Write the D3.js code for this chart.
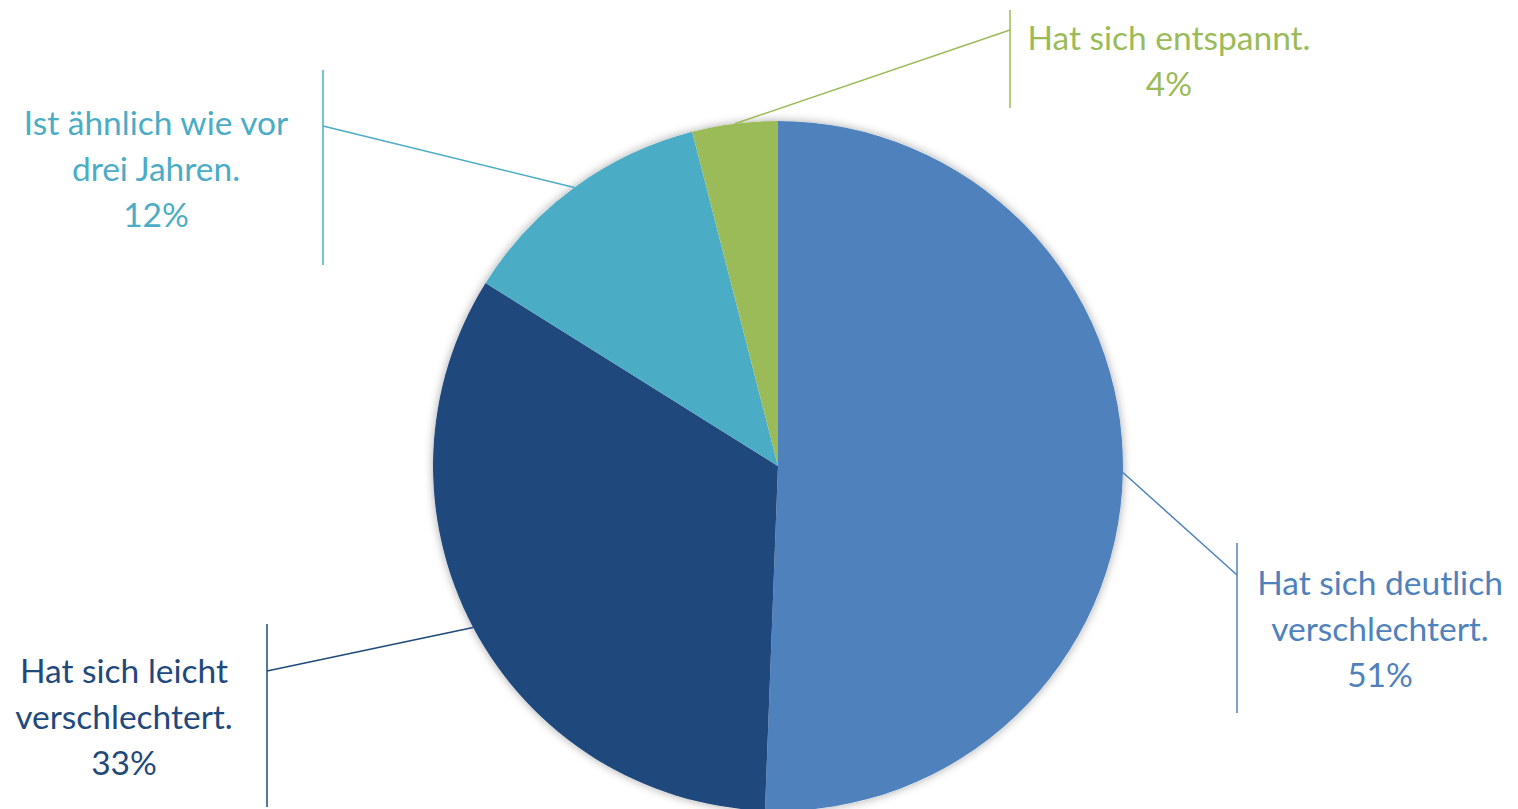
<!DOCTYPE html>
<html><head><meta charset="utf-8">
<script src="https://cdn.jsdelivr.net/npm/d3@7"></script>
<style>html,body{margin:0;padding:0;background:#fff;overflow:hidden}</style>
</head><body>
<svg id="chart" width="1518" height="809"></svg>
<script>
const categories = ["Hat sich deutlich verschlechtert.", "Hat sich leicht verschlechtert.", "Ist ähnlich wie vor drei Jahren.", "Hat sich entspannt."];
const labelLines = [["Hat sich deutlich", "verschlechtert."], ["Hat sich leicht", "verschlechtert."], ["Ist ähnlich wie vor", "drei Jahren."], ["Hat sich entspannt."]];
const values = [50.6, 33.3, 12.1, 4.0];
const colors = ["#4F81BD", "#1F497D", "#4BACC6", "#9BBB59"];

// label box layout (annotation placement)
const labelLayout = [
  {barX: 1237, y1: 543, y2: 713, attachY: 575, textX: 1380, baseY: 595},
  {barX: 267, y1: 624, y2: 807, attachY: 671, textX: 124, baseY: 683},
  {barX: 323, y1: 70, y2: 265, attachY: 126, textX: 156, baseY: 135},
  {barX: 1010, y1: 10, y2: 108, attachY: 30, textX: 1169, baseY: 50}
];

const svg = d3.select("#chart");
const cx = 778, cy = 466, R = 345;
const lineH = 46;

const defs = svg.append("defs");
const f = defs.append("filter").attr("id", "shadow").attr("x", "-10%").attr("y", "-10%").attr("width", "120%").attr("height", "120%");
f.append("feDropShadow").attr("dx", 0).attr("dy", 0).attr("stdDeviation", 5).attr("flood-color", "#000").attr("flood-opacity", 0.35);

const data = categories.map((c, i) => ({cat: c, value: values[i], color: colors[i], lines: labelLines[i], layout: labelLayout[i]}));
const pie = d3.pie().value(d => d.value).sort(null);
const arcs = pie(data);
const arc = d3.arc().innerRadius(0).outerRadius(R);

const g = svg.append("g").attr("transform", `translate(${cx},${cy})`);
g.append("circle").attr("r", R).attr("fill", "#fff").attr("filter", "url(#shadow)");
g.selectAll("path.slice").data(arcs).join("path").attr("class", "slice")
  .attr("d", arc).attr("fill", d => d.data.color);

const total = d3.sum(values);
arcs.forEach(a => {
  const L = a.data.layout;
  const mid = (a.startAngle + a.endAngle) / 2;
  const sx = cx + R * Math.sin(mid), sy = cy - R * Math.cos(mid);
  svg.append("line").attr("x1", sx).attr("y1", sy).attr("x2", L.barX).attr("y2", L.attachY)
    .attr("stroke", a.data.color).attr("stroke-width", 1.5);
  svg.append("line").attr("x1", L.barX).attr("y1", L.y1).attr("x2", L.barX).attr("y2", L.y2)
    .attr("stroke", a.data.color).attr("stroke-width", 1.5);
  const lines = a.data.lines.concat([Math.round(a.data.value / total * 100) + "%"]);
  const t = svg.append("text").attr("text-anchor", "middle").attr("fill", a.data.color)
    .style("font-family", "Lato, 'Open Sans', sans-serif").style("font-size", "33.5px");
  lines.forEach((s, i) => t.append("tspan").attr("x", L.textX).attr("y", L.baseY + i * lineH).text(s));
});
</script>
</body></html>
